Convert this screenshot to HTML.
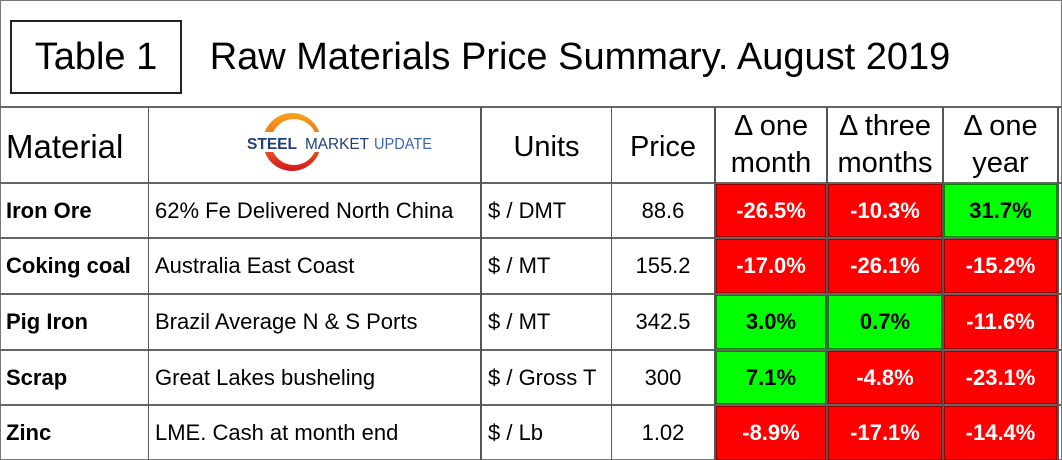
<!DOCTYPE html>
<html><head><meta charset="utf-8"><style>
body{margin:0;width:1062px;height:460px;overflow:hidden;background:#fff;font-family:"Liberation Sans",sans-serif}
#wrap{position:absolute;left:0;top:0;width:1060px;height:458px;border:1px solid #777}
.c{position:absolute;display:flex;align-items:center;justify-content:center;box-sizing:border-box;color:#000}
.hl{position:absolute;height:2px;background:#666}
.vl{position:absolute;width:2px;background:#555}
.h{font-size:29px;line-height:37px;text-align:center}
.v{font-size:22px}
.b{font-weight:bold}
.red{background:#ff0000;color:#fff;font-weight:bold;border:1px solid #900}
.grn{background:#00ff00;color:#000;font-weight:bold;border:1px solid #080}
.l{justify-content:flex-start;padding-left:6px}
</style></head><body>
<div id="wrap"></div>
<div class="c" style="left:10px;top:20px;width:172px;height:74px;border:2px solid #222;font-size:38px">Table 1</div>
<div class="c" style="left:190px;top:20px;width:780px;height:74px;font-size:38px">Raw Materials Price Summary. August 2019</div>
<div class="hl" style="left:0;top:106px;width:1062px"></div>
<div class="hl" style="left:0;top:182px;width:1062px"></div>
<div class="hl" style="left:0;top:237px;width:1062px"></div>
<div class="hl" style="left:0;top:293px;width:1062px"></div>
<div class="hl" style="left:0;top:349px;width:1062px"></div>
<div class="hl" style="left:0;top:404px;width:1062px"></div>
<div class="vl" style="left:148px;top:107px;height:353px;width:1px"></div>
<div class="vl" style="left:480px;top:107px;height:353px"></div>
<div class="vl" style="left:611px;top:107px;height:353px;width:1px"></div>
<div class="vl" style="left:714px;top:107px;height:353px"></div>
<div class="vl" style="left:826px;top:107px;height:353px"></div>
<div class="vl" style="left:942px;top:107px;height:353px"></div>
<div class="vl" style="left:1057px;top:107px;height:353px"></div>
<div class="c l" style="left:0;top:110px;width:148px;height:74px;font-size:33px">Material</div>
<svg style="position:absolute;left:240px;top:108px" width="200" height="74" viewBox="0 0 200 74">
<defs><linearGradient id="g" x1="0" y1="0" x2="0" y2="1"><stop offset="0" stop-color="#f7a21b"/><stop offset="0.5" stop-color="#ee6a1e"/><stop offset="1" stop-color="#d4161c"/></linearGradient>
<mask id="m"><rect width="200" height="74" fill="#fff"/><circle cx="54" cy="34" r="23" fill="#000"/></mask></defs>
<circle cx="52" cy="34" r="29" fill="url(#g)" mask="url(#m)"/>
<rect x="5" y="24" width="190" height="20" fill="#fff"/>
<text x="7" y="41" font-family="Liberation Sans" font-size="16" font-weight="bold" fill="#1f3e7c" textLength="50" lengthAdjust="spacingAndGlyphs">STEEL</text>
<text x="65" y="41" font-family="Liberation Sans" font-size="16" fill="#1f3e7c" textLength="64" lengthAdjust="spacingAndGlyphs">MARKET</text>
<text x="134" y="41" font-family="Liberation Sans" font-size="16" fill="#3a66b0" textLength="58" lengthAdjust="spacingAndGlyphs">UPDATE</text></svg>
<div class="c h" style="left:482px;top:110px;width:129px;height:74px">Units</div>
<div class="c h" style="left:612px;top:110px;width:102px;height:74px">Price</div>
<div class="c h" style="left:716px;top:108px;width:110px;height:74px">Δ one<br>month</div>
<div class="c h" style="left:828px;top:108px;width:114px;height:74px">Δ three<br>months</div>
<div class="c h" style="left:944px;top:108px;width:113px;height:74px">Δ one<br>year</div>
<div id="rows"></div>
<script>
const materials=["Iron Ore","Coking coal","Pig Iron","Scrap","Zinc"];
const descs=["62% Fe Delivered North China","Australia East Coast","Brazil Average N & S Ports","Great Lakes busheling","LME. Cash at month end"];
const units=["$ / DMT","$ / MT","$ / MT","$ / Gross T","$ / Lb"];
const prices=["88.6","155.2","342.5","300","1.02"];
const oneMonth=[-26.5,-17.0,3.0,7.1,-8.9];
const threeMonths=[-10.3,-26.1,0.7,-4.8,-17.1];
const oneYear=[31.7,-15.2,-11.6,-23.1,-14.4];
const tops=[184,239,295,351,406],hs=[53,54,54,53,54];
const root=document.getElementById('rows');
function cell(cls,x,y,w,h,txt,name){const d=document.createElement('div');d.className='c '+cls;d.style.cssText=`left:${x}px;top:${y}px;width:${w}px;height:${h}px`;d.textContent=txt;


root.appendChild(d);}
materials.forEach((m,i)=>{const y=tops[i],h=hs[i];const k=m.toLowerCase().replace(/ /g,'-');
cell('v b l',0,y,148,h,m,k+'-material');
cell('v l',149,y,331,h,descs[i],k+'-description');
cell('v l',482,y,129,h,units[i],k+'-units');
cell('v',612,y,102,h,prices[i],k+'-price');
[[oneMonth,716,110,'one-month'],[threeMonths,828,114,'three-months'],[oneYear,944,113,'one-year']].forEach(([a,x,w,n])=>{const v=a[i];cell('v '+(v<0?'red':'grn'),x,y,w,h,v.toFixed(1)+'%',k+'-'+n+'-change');});
});
</script>
</body></html>
